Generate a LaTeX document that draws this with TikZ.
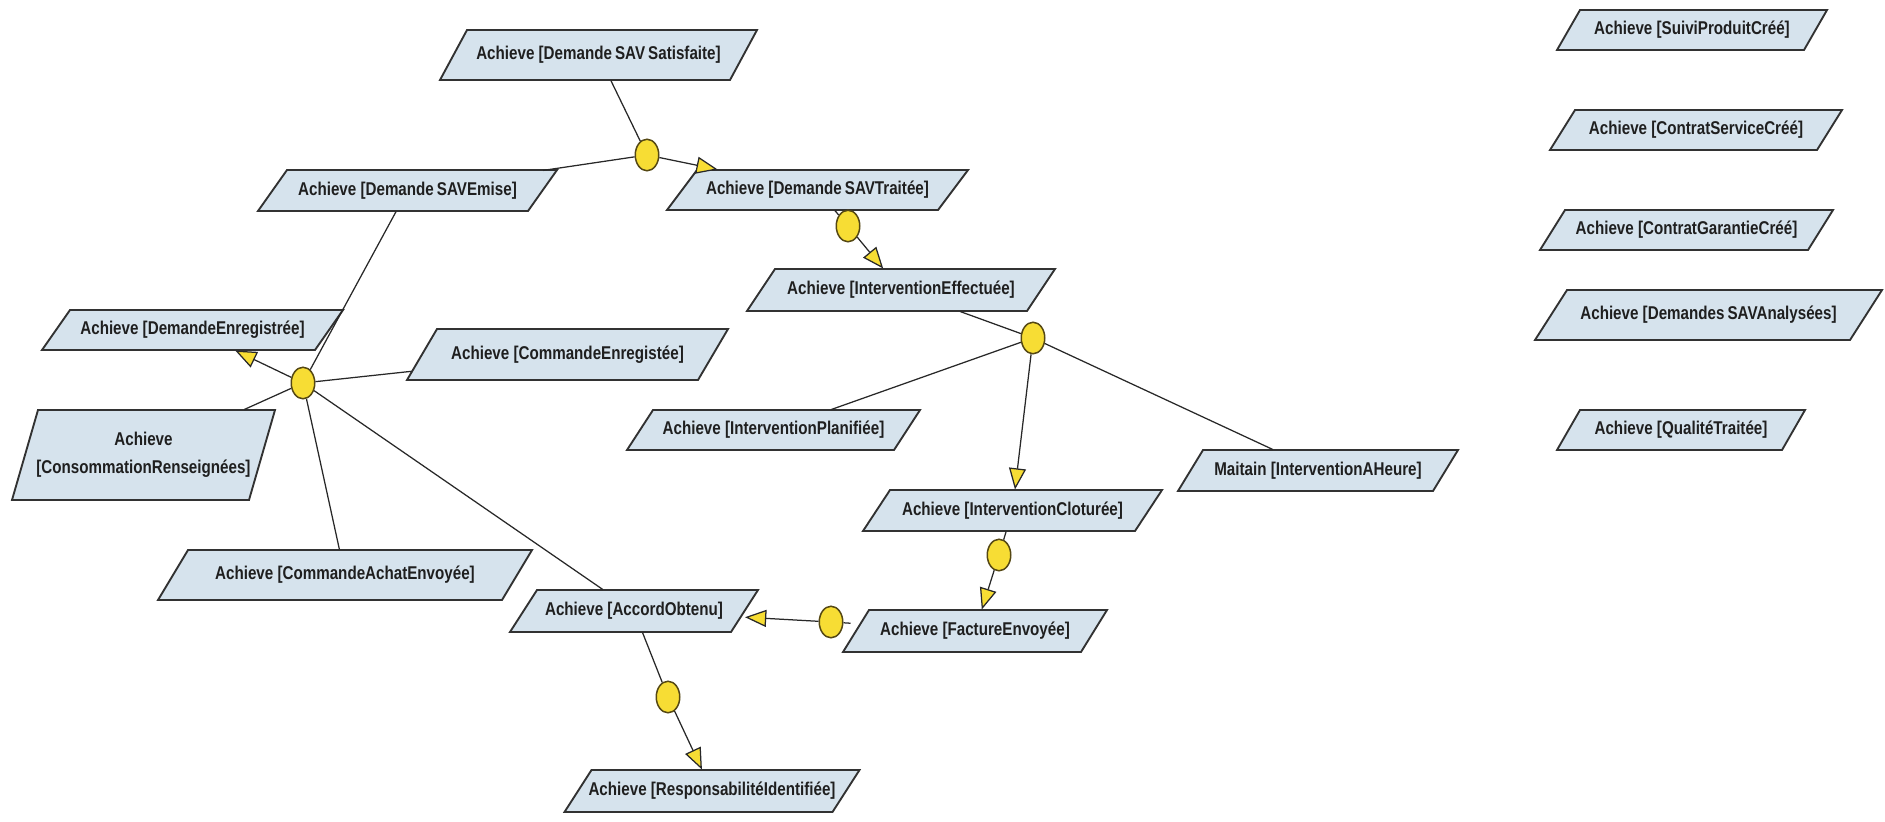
\documentclass[tikz,border=0pt]{standalone}
\usepackage{fontspec}
\setmainfont{Liberation Sans}[FakeStretch=0.82]
\usetikzlibrary{shapes.geometric,arrows.meta}
\definecolor{boxfill}{RGB}{214,227,237}
\definecolor{boxline}{RGB}{50,50,50}
\definecolor{ryellow}{RGB}{247,221,52}
\definecolor{rline}{RGB}{85,72,20}
\definecolor{conn}{RGB}{40,40,40}
% name, x, y, total width, height, slant offset, text
\newcommand\goalnode[7]{%
  \path[goalbox] ({#2-#4/2},{#3+#5/2}) -- ({#2+#4/2-#6},{#3+#5/2})
     -- ({#2+#4/2},{#3-#5/2}) -- ({#2-#4/2+#6},{#3-#5/2}) -- cycle;
  \node[goaltext, minimum width={(#4-#6)*0.4pt}, minimum height={#5*0.4pt}] (#1) at (#2,#3) {#7};
}
\begin{document}
\begin{tikzpicture}[x=0.4pt,y=-0.4pt,
  goalbox/.style={fill=boxfill, draw=boxline, line width=0.75pt, line join=miter},
  goaltext/.style={rectangle, inner sep=0pt,
    font=\fontsize{7.4}{11.2}\selectfont\bfseries, text=black!88, align=center},
  gate/.style={ellipse, minimum width=9.4pt, minimum height=12.6pt, inner sep=0pt,
    fill=ryellow, draw=rline, line width=0.6pt},
  link/.style={draw=conn, line width=0.5pt},
  arr/.style={link, -{Triangle[length=8.5pt,width=6.8pt,fill=ryellow]}}
]
\useasboundingbox (0,0) rectangle (1885,821);

% goals
\goalnode{sat}{598.5}{55}{317}{50}{27}{Achieve [Demande\,SAV\,Satisfaite]}
\goalnode{emise}{407.5}{190.5}{299}{41}{29}{Achieve [Demande\,SAVEmise]}
\goalnode{trait}{817.5}{190}{301}{40}{30}{Achieve [Demande\,SAVTraitée]}
\goalnode{eff}{901}{290}{308}{42}{28}{Achieve [InterventionEffectuée]}
\goalnode{enreg}{192.5}{330}{301}{40}{28}{Achieve [DemandeEnregistrée]}
\goalnode{cmdenr}{567.5}{354.5}{321}{51}{30}{Achieve [CommandeEnregistée]}
\goalnode{conso}{143.5}{455}{263}{90}{26}{Achieve\\{}[ConsommationRenseignées]}
\goalnode{plan}{773.5}{430}{293}{40}{26}{Achieve [InterventionPlanifiée]}
\goalnode{maint}{1318}{470.5}{280}{41}{25}{Maitain [InterventionAHeure]}
\goalnode{clot}{1012.5}{510.5}{299}{41}{27}{Achieve [InterventionCloturée]}
\goalnode{achat}{345}{575}{374}{50}{30}{Achieve [CommandeAchatEnvoyée]}
\goalnode{accord}{634}{611}{248}{42}{27}{Achieve [AccordObtenu]}
\goalnode{fact}{975}{631}{264}{42}{26}{Achieve [FactureEnvoyée]}
\goalnode{resp}{712}{791}{295}{42}{27}{Achieve [ResponsabilitéIdentifiée]}

\goalnode{suivi}{1692}{30}{270}{40}{23}{Achieve [SuiviProduitCréé]}
\goalnode{service}{1696}{130}{292}{40}{25}{Achieve [ContratServiceCréé]}
\goalnode{garantie}{1686.5}{230}{293}{40}{25}{Achieve [ContratGarantieCréé]}
\goalnode{analyse}{1708.5}{315}{347}{50}{32}{Achieve [Demandes\,SAVAnalysées]}
\goalnode{qualite}{1681}{430}{248}{40}{23}{Achieve [QualitéTraitée]}

% refinement gates
\node[gate] (c1) at (647,155) {};
\node[gate] (c2) at (848,226) {};
\node[gate] (cL) at (303,383) {};
\node[gate] (c3) at (1033,338) {};
\node[gate] (c4) at (999,555) {};
\node[gate] (c5) at (831,622) {};
\node[gate] (c6) at (668,697) {};

% connectors
\draw[link] (sat) -- (c1);
\draw[link] (emise) -- (c1);
\draw[arr] (c1) -- (trait);
\draw[link] (trait) -- (c2);
\draw[arr] (c2) -- (eff);
\draw[link] (eff) -- (c3);
\draw[link] (c3) -- (plan);
\draw[link] (c3) -- (maint);
\draw[arr] (c3) -- (clot);
\draw[link] (clot) -- (c4);
\draw[arr] (c4) -- (fact);
\draw[link, shorten <=2pt] (fact) -- (c5);
\draw[arr] (c5) -- (accord);
\draw[link] (accord) -- (c6);
\draw[arr] (c6) -- (resp);
\draw[link] (cL) -- (emise);
\draw[arr] (cL) -- (enreg);
\draw[link, shorten >=4pt] (cL) -- (cmdenr);
\draw[link] (cL) -- (conso);
\draw[link] (cL) -- (achat);
\draw[link] (cL) -- (accord);
\end{tikzpicture}
\end{document}
